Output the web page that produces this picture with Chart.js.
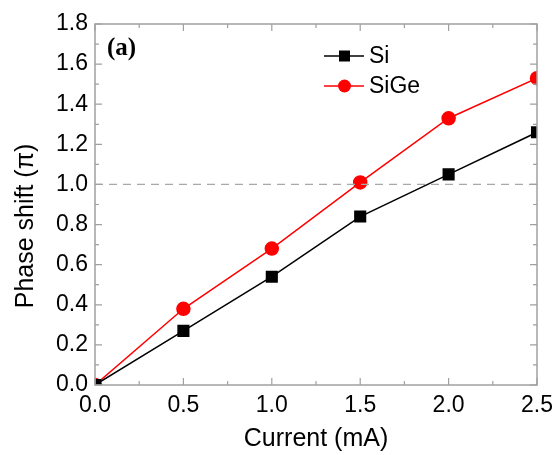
<!DOCTYPE html>
<html>
<head>
<meta charset="utf-8">
<script src="https://cdn.jsdelivr.net/npm/chart.js@4"></script>
<style>
  html, body { margin: 0; padding: 0; background: #fff; }
  #wrap { width: 560px; height: 455px; }
</style>
</head>
<body>
<div id="wrap"><canvas id="phase-chart" width="560" height="455"></canvas></div>
<script>
const currents = [0, 0.5, 1.0, 1.5, 2.0, 2.5];
const siShift = [0, 0.27, 0.54, 0.84, 1.05, 1.26];
const sigeShift = [0, 0.38, 0.68, 1.01, 1.33, 1.53];
const xTicks = [0, 0.5, 1.0, 1.5, 2.0, 2.5];
const yTicks = [0, 0.2, 0.4, 0.6, 0.8, 1.0, 1.2, 1.4, 1.6, 1.8];
const refLine = 1.0;

const frameColor = "#a0a0a0";
const font = "Liberation Sans, Arial, sans-serif";

function toPoints(values) {
  return currents.map((c, i) => ({ x: c, y: values[i] }));
}

// box, inward ticks, reference line, legend, y title and panel label
const framePlugin = {
  id: "frame",
  afterDatasetsDraw(chart) {
    const ctx = chart.ctx;
    const area = chart.chartArea;
    const xs = chart.scales.x;
    const ys = chart.scales.y;
    ctx.save();

    // dashed 1.0 line
    const yRef = ys.getPixelForValue(refLine);
    ctx.strokeStyle = "#a8a8a8";
    ctx.lineWidth = 1.2;
    ctx.setLineDash([8, 6]);
    ctx.beginPath();
    ctx.moveTo(area.left, yRef);
    ctx.lineTo(area.right, yRef);
    ctx.stroke();
    ctx.setLineDash([]);

    // frame
    ctx.strokeStyle = frameColor;
    ctx.lineWidth = 1.5;
    ctx.strokeRect(area.left, area.top, area.right - area.left, area.bottom - area.top);

    // ticks
    ctx.lineWidth = 1.2;
    ctx.beginPath();
    for (let v = 0; v <= 2.5001; v += 0.25) {
      const px = xs.getPixelForValue(v);
      const len = Math.abs(v / 0.5 - Math.round(v / 0.5)) < 0.01 ? 7 : 4;
      ctx.moveTo(px, area.bottom);
      ctx.lineTo(px, area.bottom - len);
      ctx.moveTo(px, area.top);
      ctx.lineTo(px, area.top + len);
    }
    for (let v = 0; v <= 1.8001; v += 0.1) {
      const py = ys.getPixelForValue(v);
      const len = Math.abs(v / 0.2 - Math.round(v / 0.2)) < 0.01 ? 7 : 4;
      ctx.moveTo(area.left, py);
      ctx.lineTo(area.left + len, py);
      ctx.moveTo(area.right, py);
      ctx.lineTo(area.right - len, py);
    }
    ctx.stroke();

    // legend
    const items = [
      { label: "Si", color: "#000000", style: "rect", y: 56 },
      { label: "SiGe", color: "#ff0000", style: "circle", y: 86 }
    ];
    items.forEach((it) => {
      ctx.strokeStyle = it.color;
      ctx.fillStyle = it.color;
      ctx.lineWidth = 1.5;
      ctx.beginPath();
      ctx.moveTo(324, it.y);
      ctx.lineTo(364, it.y);
      ctx.stroke();
      if (it.style === "rect") {
        ctx.fillRect(339, it.y - 5.5, 11, 11);
      } else {
        ctx.beginPath();
        ctx.arc(344.5, it.y, 6.5, 0, Math.PI * 2);
        ctx.fill();
      }
      ctx.fillStyle = "#000";
      ctx.font = "23px " + font;
      ctx.textBaseline = "middle";
      ctx.textAlign = "left";
      ctx.fillText(it.label, 369, it.y + 1);
    });

    // y title
    ctx.save();
    ctx.translate(26, 226);
    ctx.rotate(-Math.PI / 2);
    ctx.font = "25px " + font;
    ctx.fillStyle = "#000";
    ctx.textAlign = "center";
    ctx.textBaseline = "middle";
    ctx.fillText("Phase shift (π)", 0, 0);
    ctx.restore();

    // panel label
    ctx.font = "bold 25px 'Liberation Serif', 'Times New Roman', serif";
    ctx.fillStyle = "#000";
    ctx.textAlign = "left";
    ctx.textBaseline = "middle";
    ctx.fillText("(a)", 107, 49);
    ctx.restore();
  }
};

new Chart(document.getElementById("phase-chart"), {
  type: "line",
  data: {
    datasets: [
      {
        label: "Si",
        data: toPoints(siShift),
        borderColor: "#000000",
        backgroundColor: "#000000",
        borderWidth: 1.5,
        pointStyle: "rect",
        pointRadius: 7.5,
        pointHoverRadius: 7.5
      },
      {
        label: "SiGe",
        data: toPoints(sigeShift),
        borderColor: "#ff0000",
        backgroundColor: "#ff0000",
        borderWidth: 1.5,
        pointStyle: "circle",
        pointRadius: 6.5,
        pointHoverRadius: 6.5
      }
    ]
  },
  options: {
    responsive: false,
    animation: false,
    layout: { padding: { top: 24, right: 21, left: 0, bottom: 0 } },
    plugins: {
      legend: { display: false },
      tooltip: { enabled: false }
    },
    scales: {
      x: {
        type: "linear",
        min: 0,
        max: 2.5,
        afterBuildTicks: (scale) => {
          scale.ticks = xTicks.map((v) => ({ value: v }));
        },
        afterFit: (scale) => { scale.height = 70; },
        grid: { display: false, drawTicks: false },
        border: { display: false },
        ticks: {
          padding: 7,
          color: "#000",
          font: { family: font, size: 23 },
          callback: (v) => Number(v).toFixed(1)
        },
        title: {
          display: true,
          text: "Current (mA)",
          color: "#000",
          font: { family: font, size: 25 },
          padding: { top: 2, bottom: 1 }
        }
      },
      y: {
        min: 0,
        max: 1.8,
        afterBuildTicks: (scale) => {
          scale.ticks = yTicks.map((v) => ({ value: v }));
        },
        afterFit: (scale) => { scale.width = 95; },
        grid: { display: false, drawTicks: false },
        border: { display: false },
        ticks: {
          padding: 7,
          color: "#000",
          font: { family: font, size: 23 },
          callback: (v) => Number(v).toFixed(1)
        }
      }
    }
  },
  plugins: [framePlugin]
});
</script>
</body>
</html>
